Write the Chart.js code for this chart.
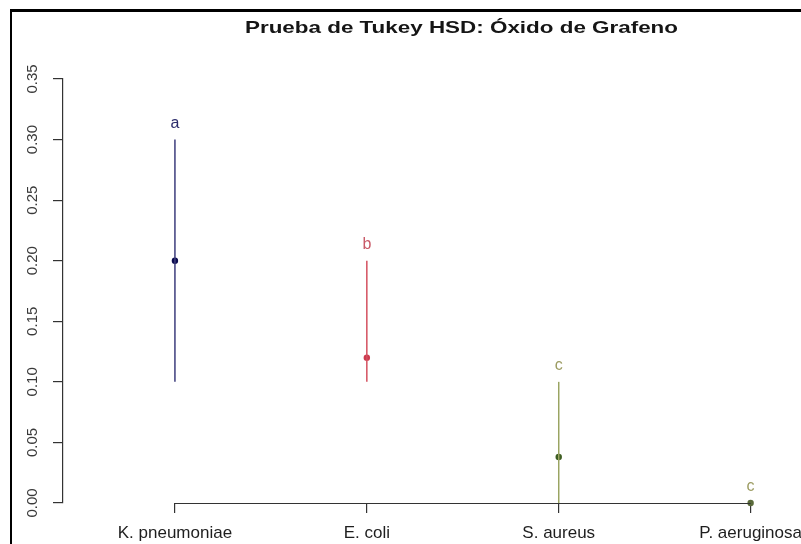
<!DOCTYPE html>
<html>
<head>
<meta charset="utf-8">
<script src="https://cdn.jsdelivr.net/npm/chart.js@4.4.1/dist/chart.umd.min.js"></script>
<style>
  html, body { margin: 0; padding: 0; background: #ffffff; }
  canvas { display: block; }
</style>
</head>
<body>
<canvas id="chart" width="801" height="544"></canvas>
<script>
// Tukey HSD groups: mean and interval per bacterium, with group letters
const categories = ['K. pneumoniae', 'E. coli', 'S. aureus', 'P. aeruginosa'];
const means = [0.20, 0.12, 0.038, 0.0];
const lowerBounds = [0.10, 0.10, 0.0, 0.0];
const upperBounds = [0.30, 0.20, 0.10, 0.0];
const groupLetters = ['a', 'b', 'c', 'c'];
const yTickValues = [0, 0.05, 0.10, 0.15, 0.20, 0.25, 0.30, 0.35];
const titleText = 'Prueba de Tukey HSD: Óxido de Grafeno';

const lineColors = ['#3c3c7c', '#d4505f', '#9aa462', '#9aa462'];
const pointColors = ['#0b0b4f', '#cc3a4e', '#3e5e22', '#5a6a3a'];
const letterColors = ['#2b2b6b', '#c95a68', '#9c9c62', '#9c9c62'];

const FONT = "'Liberation Sans', Arial, Helvetica, sans-serif";

// one vertical segment per group (lower -> upper)
const intervalSets = categories.map((name, i) => ({
  label: name,
  data: [{ x: i, y: lowerBounds[i] }, { x: i, y: upperBounds[i] }],
  showLine: true,
  borderColor: lineColors[i],
  borderWidth: 1.5,
  pointRadius: 0,
  clip: false
}));

// group means
const meanSet = {
  label: 'media',
  data: means.map((m, i) => ({ x: i, y: m })),
  showLine: false,
  pointRadius: 3.2,
  pointBackgroundColor: pointColors,
  pointBorderColor: pointColors,
  pointBorderWidth: 0,
  clip: false
};

// frame, title, x axis line and group letters
const decorations = {
  id: 'decorations',
  beforeDraw(chart) {
    const ctx = chart.ctx;
    ctx.save();
    ctx.fillStyle = '#ffffff';
    ctx.fillRect(0, 0, chart.width, chart.height);
    ctx.restore();
  },
  afterDraw(chart) {
    const ctx = chart.ctx;
    const xs = chart.scales.x, ys = chart.scales.y;
    ctx.save();
    // outer frame (top and left edges)
    ctx.fillStyle = '#000000';
    ctx.fillRect(10, 9, chart.width - 10, 3);
    ctx.fillRect(10, 9, 2, chart.height - 9);

    // x axis line spanning the groups
    ctx.strokeStyle = '#333333';
    ctx.lineWidth = 1.2;
    ctx.beginPath();
    const y0 = Math.round(ys.getPixelForValue(0)) + 0.5;
    ctx.moveTo(xs.getPixelForValue(0), y0);
    ctx.lineTo(xs.getPixelForValue(categories.length - 1), y0);
    ctx.stroke();

    // title, stretched to the printed width
    ctx.font = 'bold 17px ' + FONT;
    ctx.fillStyle = '#151515';
    ctx.textBaseline = 'alphabetic';
    ctx.textAlign = 'center';
    const w = ctx.measureText(titleText).width;
    ctx.translate(461.5, 33);
    ctx.scale(433 / w, 1);
    ctx.fillText(titleText, 0, 0);
    ctx.restore();

    // group letters above each interval
    ctx.save();
    ctx.font = '16px ' + FONT;
    ctx.textAlign = 'center';
    ctx.textBaseline = 'alphabetic';
    groupLetters.forEach((g, i) => {
      ctx.fillStyle = letterColors[i];
      ctx.fillText(g, xs.getPixelForValue(i), ys.getPixelForValue(upperBounds[i]) - 12);
    });
    ctx.restore();
  }
};

new Chart(document.getElementById('chart'), {
  type: 'scatter',
  data: { datasets: [...intervalSets, meanSet] },
  options: {
    responsive: false,
    devicePixelRatio: 1,
    animation: false,
    layout: { padding: { top: 79, left: 13, right: 12, bottom: 0 } },
    plugins: { legend: { display: false }, tooltip: { enabled: false }, title: { display: false } },
    scales: {
      x: {
        type: 'linear',
        min: -0.5833,
        max: 3.2,
        border: { display: false },
        grid: { drawOnChartArea: false, drawTicks: true, tickLength: 10, color: '#333333', lineWidth: 1.2 },
        afterBuildTicks(scale) { scale.ticks = categories.map((_, i) => ({ value: i })); },
        afterFit(scale) { scale.height = 41; scale.paddingRight = 0; scale.paddingLeft = 0; },
        ticks: {
          autoSkip: false,
          minRotation: 0,
          maxRotation: 0,
          padding: 10,
          color: '#1e1e1e',
          font: { family: FONT, size: 17 },
          callback: (v) => categories[Math.round(v)]
        }
      },
      y: {
        type: 'linear',
        min: 0,
        max: 0.35,
        border: { display: true, color: '#333333', width: 1.2 },
        grid: { drawOnChartArea: false, drawTicks: true, tickLength: 10, color: '#333333', lineWidth: 1.2 },
        afterBuildTicks(scale) { scale.ticks = yTickValues.map(v => ({ value: v })); },
        afterFit(scale) { scale.width = 50; },
        ticks: {
          autoSkip: false,
          minRotation: 90,
          maxRotation: 90,
          crossAlign: 'center',
          padding: 6,
          color: '#3a3a3a',
          font: { family: FONT, size: 15 },
          callback: (v) => v.toFixed(2)
        }
      }
    }
  },
  plugins: [decorations]
});
</script>
</body>
</html>
